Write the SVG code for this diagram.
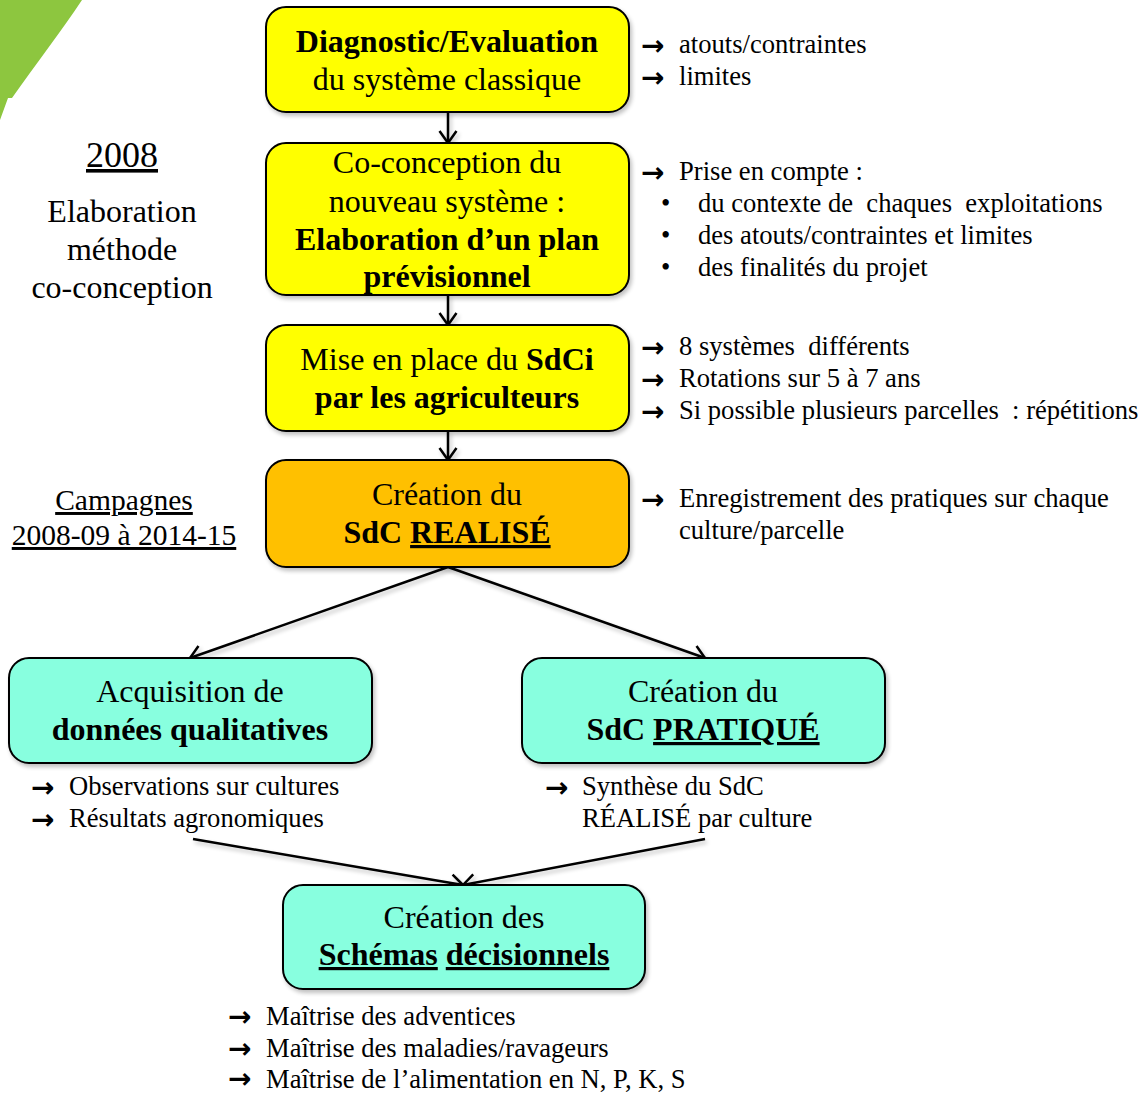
<svg xmlns="http://www.w3.org/2000/svg" width="1144" height="1095" viewBox="0 0 1144 1095">
<defs>
<style>
.box{stroke:#000;stroke-width:2;filter:url(#sh)}
.y{fill:#FFFF00}.o{fill:#FFC000}.c{fill:#88FFDF}
.bt{font-family:"Liberation Serif",serif;font-size:32px;text-anchor:middle;fill:#000}
.lt{font-family:"Liberation Serif",serif;font-size:32px;text-anchor:middle;fill:#000}
.st{font-family:"Liberation Serif",serif;font-size:26.6px;fill:#000;white-space:pre}
.ar{font-family:"DejaVu Sans",sans-serif;font-size:28px;font-weight:bold;fill:#000}
.b{font-weight:bold}
.u{text-decoration:underline}
.con{stroke:#000;stroke-width:2.5;fill:none;marker-end:url(#ah)}
</style>
<filter id="sh" x="-10%" y="-10%" width="130%" height="140%">
<feGaussianBlur in="SourceAlpha" stdDeviation="2"/>
<feOffset dx="2" dy="3" result="b"/>
<feComponentTransfer><feFuncA type="linear" slope="0.25"/></feComponentTransfer>
<feMerge><feMergeNode/><feMergeNode in="SourceGraphic"/></feMerge>
</filter>
<filter id="shc" filterUnits="userSpaceOnUse" x="0" y="0" width="1144" height="1095">
<feGaussianBlur in="SourceAlpha" stdDeviation="2"/>
<feOffset dx="2" dy="3" result="b"/>
<feComponentTransfer><feFuncA type="linear" slope="0.25"/></feComponentTransfer>
<feMerge><feMergeNode/><feMergeNode in="SourceGraphic"/></feMerge>
</filter>
<marker id="ah" viewBox="0 0 20 20" refX="18" refY="10" markerWidth="20" markerHeight="20" markerUnits="userSpaceOnUse" orient="auto">
<path d="M6,1.5 L18,10 L6,18.5" fill="none" stroke="#000" stroke-width="2.5"/>
</marker>
</defs>
<rect width="1144" height="1095" fill="#fff"/>
<path d="M0,0 H82 C62,30 36,64 12,98 L8,98 L0,120 Z" fill="#8DC63F"/>

<g id="connectors" filter="url(#shc)">
<line class="con" x1="448" y1="112" x2="448" y2="143"/>
<line class="con" x1="448" y1="295" x2="448" y2="325"/>
<line class="con" x1="448" y1="431" x2="448" y2="460"/>
<line class="con" x1="448" y1="567" x2="190" y2="658"/>
<line class="con" x1="448" y1="567" x2="705" y2="658"/>
<line class="con" x1="193" y1="839" x2="463" y2="885"/>
<line class="con" x1="705" y1="839" x2="463" y2="885"/>
</g>

<g id="n1">
<rect class="box y" x="266" y="7" width="363" height="105" rx="20"/>
<text class="bt b" x="447" y="52">Diagnostic/Evaluation</text>
<text class="bt" x="447" y="90">du système classique</text>
</g>
<g id="n2">
<rect class="box y" x="266" y="143" width="363" height="152" rx="20"/>
<text class="bt" x="447" y="173">Co-conception du</text>
<text class="bt" x="447" y="212">nouveau système :</text>
<text class="bt b" x="447" y="250">Elaboration d’un plan</text>
<text class="bt b" x="447" y="287">prévisionnel</text>
</g>
<g id="n3">
<rect class="box y" x="266" y="325" width="363" height="106" rx="20"/>
<text class="bt" x="447" y="370">Mise en place du <tspan class="b">SdCi</tspan></text>
<text class="bt b" x="447" y="408">par les agriculteurs</text>
</g>
<g id="n4">
<rect class="box o" x="266" y="460" width="363" height="107" rx="20"/>
<text class="bt" x="447" y="505">Création du</text>
<text class="bt b" x="447" y="543">SdC <tspan class="u">REALISÉ</tspan></text>
</g>
<g id="n5">
<rect class="box c" x="9" y="658" width="363" height="105" rx="20"/>
<text class="bt" x="190" y="702">Acquisition de</text>
<text class="bt b" x="190" y="740">données qualitatives</text>
</g>
<g id="n6">
<rect class="box c" x="522" y="658" width="363" height="105" rx="20"/>
<text class="bt" x="703" y="702">Création du</text>
<text class="bt b" x="703" y="740">SdC <tspan class="u">PRATIQUÉ</tspan></text>
</g>
<g id="n7">
<rect class="box c" x="283" y="885" width="362" height="104" rx="20"/>
<text class="bt" x="464" y="928">Création des</text>
<text class="bt b" x="464" y="965"><tspan class="u">Schémas</tspan> <tspan class="u">décisionnels</tspan></text>
</g>

<g id="left">
<text class="lt u" x="122" y="167" style="font-size:36px">2008</text>
<text class="lt" x="122" y="222">Elaboration</text>
<text class="lt" x="122" y="260">méthode</text>
<text class="lt" x="122" y="298">co-conception</text>
<text class="lt u" x="124" y="510" style="font-size:29.5px">Campagnes</text>
<text class="lt u" x="124" y="545" style="font-size:29.5px">2008-09 à 2014-15</text>
</g>

<g id="notes">
<text class="ar" x="641" y="55">→</text><text class="st" x="679" y="53">atouts/contraintes</text>
<text class="ar" x="641" y="87">→</text><text class="st" x="679" y="85">limites</text>

<text class="ar" x="641" y="182">→</text><text class="st" x="679" y="180">Prise en compte :</text>
<text class="st" x="661" y="212">•</text><text class="st" x="698" y="212">du contexte de  chaques  exploitations</text>
<text class="st" x="661" y="244">•</text><text class="st" x="698" y="244">des atouts/contraintes et limites</text>
<text class="st" x="661" y="276">•</text><text class="st" x="698" y="276">des finalités du projet</text>

<text class="ar" x="641" y="357">→</text><text class="st" x="679" y="355">8 systèmes  différents</text>
<text class="ar" x="641" y="389">→</text><text class="st" x="679" y="387">Rotations sur 5 à 7 ans</text>
<text class="ar" x="641" y="421">→</text><text class="st" x="679" y="419">Si possible plusieurs parcelles  : répétitions</text>

<text class="ar" x="641" y="509">→</text><text class="st" x="679" y="507">Enregistrement des pratiques sur chaque</text>
<text class="st" x="679" y="539">culture/parcelle</text>

<text class="ar" x="31" y="797">→</text><text class="st" x="69" y="795">Observations sur cultures</text>
<text class="ar" x="31" y="829">→</text><text class="st" x="69" y="827">Résultats agronomiques</text>

<text class="ar" x="545" y="797">→</text><text class="st" x="582" y="795">Synthèse du SdC</text>
<text class="st" x="582" y="827">RÉALISÉ par culture</text>

<text class="ar" x="228" y="1026">→</text><text class="st" x="266" y="1025">Maîtrise des adventices</text>
<text class="ar" x="228" y="1058">→</text><text class="st" x="266" y="1057">Maîtrise des maladies/ravageurs</text>
<text class="ar" x="228" y="1088">→</text><text class="st" x="266" y="1088">Maîtrise de l’alimentation en N, P, K, S</text>
</g>
</svg>
